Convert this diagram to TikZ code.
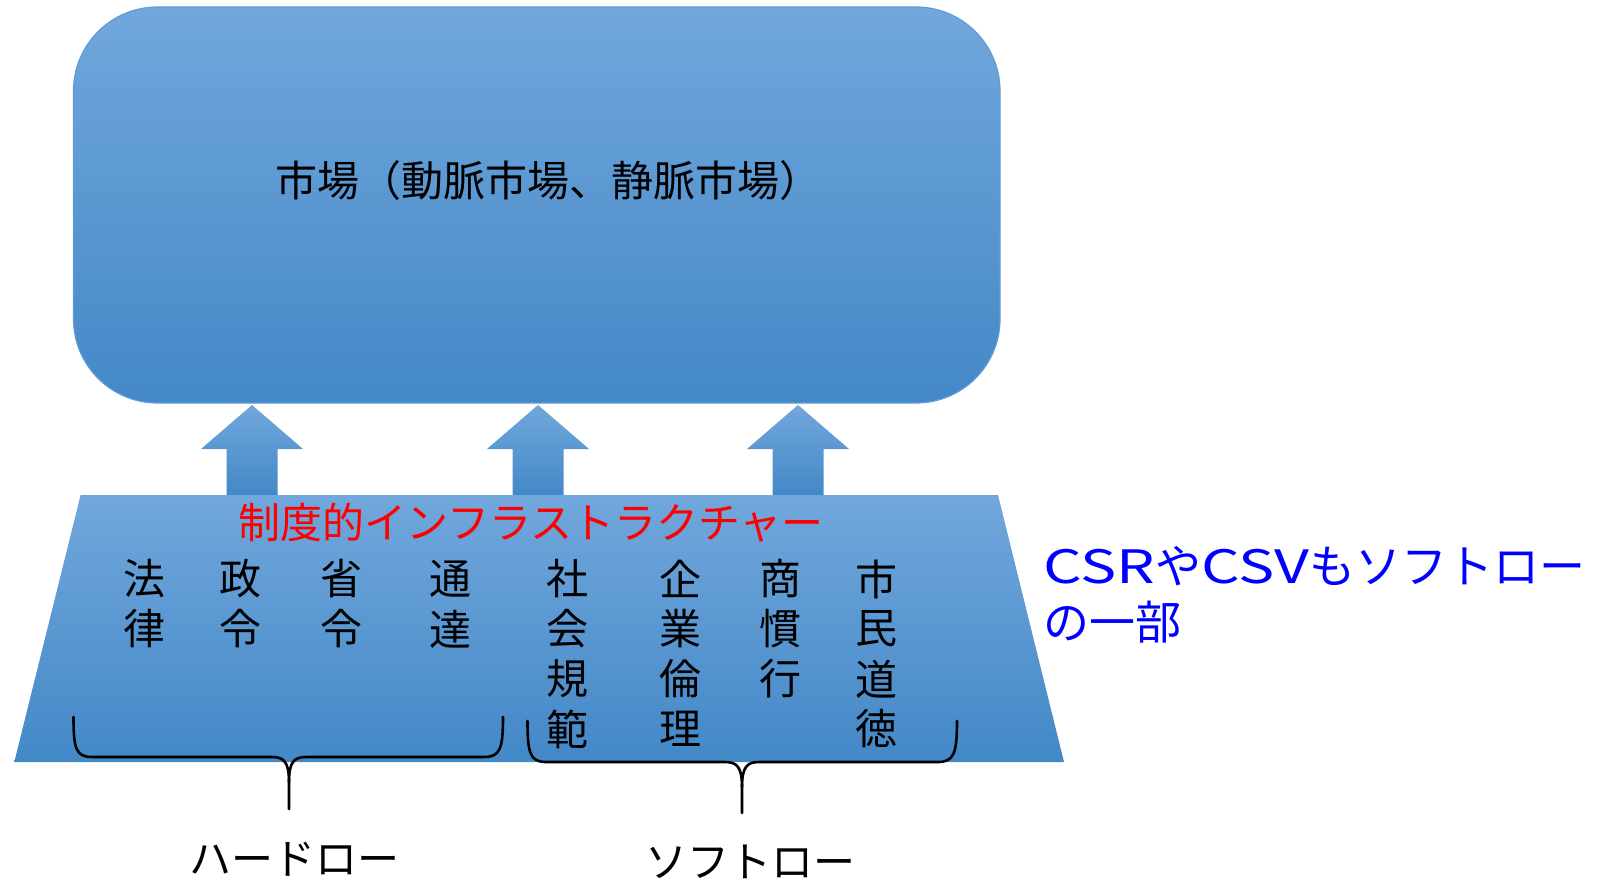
\documentclass[tikz,border=0pt]{standalone}
\usepackage{fontspec}
\usepackage{graphicx}
\newfontfamily\jp{Noto Sans CJK JP}
\definecolor{topblue}{RGB}{113,167,220}
\definecolor{botblue}{RGB}{67,136,199}
\definecolor{edgeblue}{RGB}{98,156,214}
\newcommand{\widelat}[1]{\scalebox{1.32}[1]{#1}}
\begin{document}
\begin{tikzpicture}[x=0.5pt,y=-0.5pt,
  blueshade/.style={top color=topblue,bottom color=botblue,draw=edgeblue,line width=0.6pt},
  jptext/.style={font={\jp\fontsize{21pt}{25pt}\selectfont},inner sep=0pt},
  redtext/.style={jptext,text={rgb,255:red,255;green,0;blue,0}},
  bluetext/.style={font={\jp\fontsize{23pt}{28pt}\selectfont},inner sep=0pt,text={rgb,255:red,0;green,0;blue,255},anchor=west},
  bracestyle/.style={draw=black,line width=1.3pt,line cap=round,line join=round}]
\useasboundingbox (0,0) rectangle (1600,882);
% market box
\path[blueshade,rounded corners=42pt] (73.5,7) rectangle (1000,403);
\node[jptext] (market) at (548,181) {市場（動脈市場、静脈市場）};
% arrows
\foreach \cx/\nm in {252/a1,538/a2,798/a3}{
  \path[blueshade,draw=none] (\cx-25.5,496) -- (\cx-25.5,449) -- (\cx-51,449) -- (\cx,405) -- (\cx+51,449) -- (\cx+25.5,449) -- (\cx+25.5,496) -- cycle;
  \coordinate (\nm) at (\cx,405);
}
% trapezoid
\path[blueshade,draw=none] (80.6,495) -- (998,495) -- (1064,762) -- (14.3,762) -- cycle;
\node[redtext] (infra) at (531,523) {制度的インフラストラクチャー};
% columns
\foreach \x/\lst [count=\k] in {144/{法,律},240/{政,令},341/{省,令},450/{通,達},567/{社,会,規,範},680/{企,業,倫,理},780/{商,慣,行},876/{市,民,道,徳}}{
  \foreach \c [count=\i] in \lst {
    \node[jptext] (col\k-\i) at (\x,579+50*\i-50) {\c};
  }
}
% braces
\coordinate (hardtip) at (289,809);
\draw[bracestyle] (73.5,717) .. controls (73.5,749) and (76,757) .. (92,757) -- (272,757) .. controls (284,757) and (289,762) .. (289,782) -- (hardtip);
\draw[bracestyle] (503,717) .. controls (503,749) and (500,757) .. (484,757) -- (306,757) .. controls (294,757) and (289,762) .. (289,782);
\coordinate (softtip) at (742,813);
\draw[bracestyle] (527.5,721) .. controls (527.5,753) and (530,762) .. (546,762) -- (725,762) .. controls (737,762) and (742,767) .. (742,787) -- (softtip);
\draw[bracestyle] (957,721) .. controls (957,753) and (954,762) .. (938,762) -- (759,762) .. controls (747,762) and (742,767) .. (742,787);
% bottom labels
\node[jptext] (hard) at (294,859) {ハードロー};
\node[jptext] (soft) at (750,862) {ソフトロー};
% blue note
\node[bluetext] (note1) at (1043,566) {\widelat{CSR}や\widelat{CSV}もソフトロー};
\node[bluetext] (note2) at (1043,622) {の一部};
\end{tikzpicture}
\end{document}
